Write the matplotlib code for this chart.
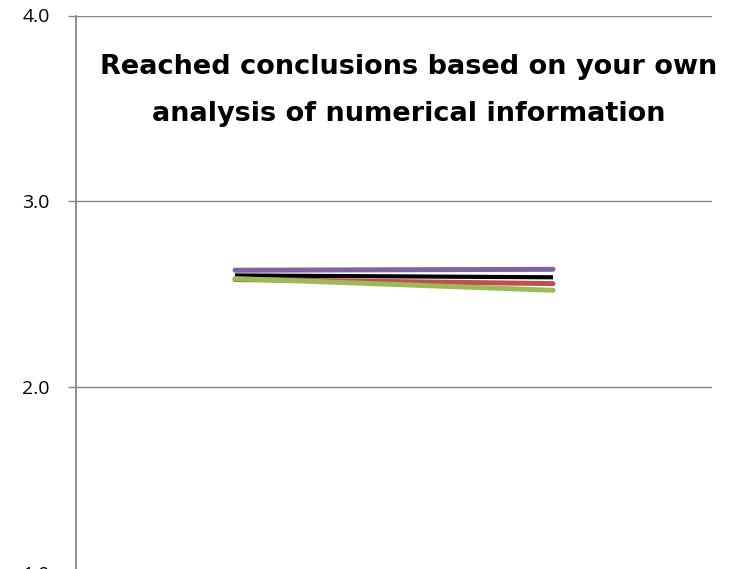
import matplotlib
matplotlib.use("Agg")
import matplotlib.pyplot as plt

categories = ["Before", "After"]
series_names = ["Overall", "Group A", "Group B", "Group C"]
overall = [2.60, 2.59]
group_a = [2.578, 2.556]
group_b = [2.583, 2.520]
group_c = [2.628, 2.633]
colors = ["#000000", "#C0504D", "#9BBB59", "#8064A2"]
title_lines = ["Reached conclusions based on your own", "analysis of numerical information"]
yticks = [1.0, 2.0, 3.0, 4.0]

fig = plt.figure(figsize=(7.30, 5.69), dpi=100)
ax = fig.add_axes([76/730, 1 - 572.5/569, (712-76)/730, 557/569])

x = list(range(len(categories)))
for vals, c in zip([overall, group_a, group_b, group_c], colors):
    lw = 3.0 if c == "#000000" else 3.6
    ax.plot(x, vals, color=c, lw=lw, solid_capstyle="round" if c != "#000000" else "butt")

ax.set_xlim(-0.5, 1.5)
ax.set_ylim(1.0, 4.0)
ax.set_yticks(yticks)
ax.set_yticklabels([f"{v:.1f}" for v in yticks], fontfamily="Open Sans", fontsize=14)
ax.set_xticks([])
ax.yaxis.grid(True, color="#868686", lw=1.0)
ax.set_axisbelow(True)
for s in ["top", "right", "bottom"]:
    ax.spines[s].set_visible(False)
ax.spines["left"].set_color("#868686")
ax.spines["left"].set_linewidth(1.3)
ax.tick_params(axis="y", length=6, width=1.0, color="#868686", pad=13)

for line, base in zip(title_lines, [74, 121]):
    fig.text(409/730, 1 - base/569, line, ha="center", va="baseline",
             fontfamily="DejaVu Sans", fontweight="bold", fontsize=19.5)

fig.savefig("out.png", dpi=100)
